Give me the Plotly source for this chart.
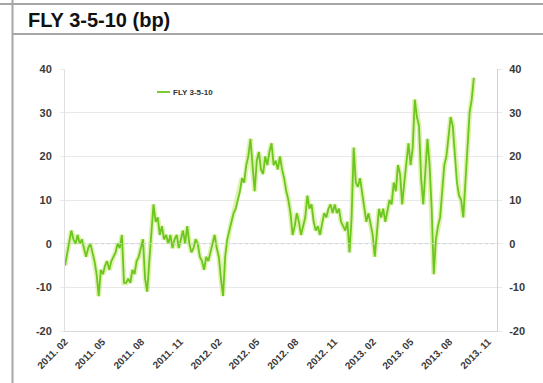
import pandas as pd
import plotly.graph_objects as go

# FLY 3-5-10 butterfly spread, basis points, sampled every 5 calendar days from 2011-02-01
start_date = "2011-02-01"
step_days = 5
fly_values = [
    -5, -2, 1, 3, 1, 0, 2, 0, 1, -1,
    -3, -1, 0, -2, -4, -7, -12, -6, -7, -5,
    -4, -6, -4, -3, -2, 0, -1, 2, -9, -9,
    -8, -9, -6, -7, -4, -3, -1, 1, -8, -11,
    -4, 3, 9, 5, 6, 2, 4, 1, 2, 0,
    2, -1, 1, 2, -1, 1, 3, 0, 4, 0,
    -2, -1, 1, 0, -3, -4, -6, -3, -4, -2,
    0, 2, -1, -3, -8, -12, -3, 1, 3, 5,
    7, 8, 10, 12, 15, 14, 18, 20, 24, 17,
    12, 19, 21, 17, 16, 20, 18, 21, 23, 18,
    19, 17, 20, 17, 15, 12, 10, 7, 2, 4,
    7, 5, 2, 4, 6, 11, 8, 9, 5, 3,
    4, 2, 5, 7, 6, 8, 9, 7, 9, 7,
    8, 5, 4, 3, 5, -2, 6, 22, 14, 13,
    15, 12, 8, 5, 7, 4, 2, -3, 3, 8,
    6, 8, 5, 8, 10, 9, 14, 12, 18, 16,
    9, 14, 18, 23, 18, 22, 33, 29, 27, 15,
    9, 17, 24, 18, 8, -7, 1, 4, 6, 12,
    18, 20, 24, 29, 27, 21, 14, 11, 10, 6,
    14, 24, 30, 33, 38,
]
fly_dates = pd.date_range(start_date, periods=len(fly_values), freq=f"{step_days}D")

tick_dates = ["2011-02-01", "2011-05-01", "2011-08-01", "2011-11-01",
              "2012-02-01", "2012-05-01", "2012-08-01", "2012-11-01",
              "2013-02-01", "2013-05-01", "2013-08-01", "2013-11-01"]
tick_labels = ["2011. 02", "2011. 05", "2011. 08", "2011. 11",
               "2012. 02", "2012. 05", "2012. 08", "2012. 11",
               "2013. 02", "2013. 05", "2013. 08", "2013. 11"]
y_ticks = [-20, -10, 0, 10, 20, 30, 40]

W, H = 543, 383
L, R, T, B = 65, 46, 69, 52
PW, PH = W - L - R, H - T - B


def px(x):
    return (x - L) / PW


def py(y):
    return (H - B - y) / PH


GREEN = "#6cc620"
GLOW = "rgba(196,232,110,0.55)"
FONT = "Liberation Sans, Arial"
y_tick_font = dict(family=FONT, size=11, color="#3a3a3a")

fig = go.Figure()
# soft halo under the series line
fig.add_trace(go.Scatter(x=fly_dates, y=fly_values, mode="lines",
                         line=dict(color=GLOW, width=5), hoverinfo="skip",
                         showlegend=False))
fig.add_trace(go.Scatter(x=fly_dates, y=fly_values, mode="lines",
                         line=dict(color=GREEN, width=1.8), name="FLY 3-5-10",
                         showlegend=False))
# mirrored right-hand axis
fig.add_trace(go.Scatter(x=[fly_dates[0]], y=[None], yaxis="y2",
                         showlegend=False, hoverinfo="skip"))

fig.update_layout(
    width=W, height=H,
    margin=dict(l=L, r=R, t=T, b=B),
    paper_bgcolor="white", plot_bgcolor="white",
    xaxis=dict(
        type="date", range=["2011-02-01", "2013-11-22"],
        tickvals=tick_dates, ticktext=["<b>%s</b>" % t for t in tick_labels],
        tickangle=-45,
        tickfont=dict(family=FONT, size=10, color="#3a3a3a"),
        showgrid=False, zeroline=False, ticks="", ticklen=0,
        showline=True, linecolor="#d9d9d9", linewidth=1,
    ),
    yaxis=dict(
        range=[-20, 40], tickvals=y_ticks,
        ticktext=["<b>%d</b>" % v for v in y_ticks], tickfont=y_tick_font,
        showgrid=True, gridcolor="#e8e8e8", gridwidth=1,
        zeroline=False, showline=True, linecolor="#e0e0e0",
        ticks="outside", ticklen=4, tickcolor="#e8e8e8",
        ticklabelstandoff=6,
    ),
    yaxis2=dict(
        range=[-20, 40], tickvals=y_ticks,
        ticktext=["<b>%d</b>" % v for v in y_ticks], tickfont=y_tick_font,
        overlaying="y", side="right", showgrid=False, zeroline=False,
        showline=True, linecolor="#d0d0d0", ticks="outside", ticklen=4,
        tickcolor="#e8e8e8", ticklabelstandoff=5,
    ),
    showlegend=False,
)

# dotted zero reference line
fig.add_hline(y=0, line=dict(color="#c9d3e0", width=1, dash="dot"))

# table-cell frame and title
frame = "#a6a6a6"
fig.add_shape(type="line", xref="paper", yref="paper", x0=px(0), x1=px(W),
              y0=py(4), y1=py(4), line=dict(color=frame, width=2))
fig.add_shape(type="line", xref="paper", yref="paper", x0=px(12), x1=px(W),
              y0=py(34), y1=py(34), line=dict(color=frame, width=2))
fig.add_shape(type="line", xref="paper", yref="paper", x0=px(12.5), x1=px(12.5),
              y0=py(0), y1=py(H), line=dict(color=frame, width=2))
fig.add_annotation(text="<b>FLY 3-5-10 (bp)</b>", xref="paper", yref="paper",
                   x=px(26), y=py(20), xanchor="left", yanchor="middle",
                   showarrow=False,
                   font=dict(family=FONT, size=20, color="#111111"))

# legend entry
fig.add_shape(type="line", xref="paper", yref="paper", x0=px(157), x1=px(170),
              y0=py(92), y1=py(92), line=dict(color=GREEN, width=1.8))
fig.add_annotation(text="<b>FLY 3-5-10</b>", xref="paper", yref="paper",
                   x=px(171), y=py(92), xanchor="left", yanchor="middle",
                   showarrow=False,
                   font=dict(family=FONT, size=8, color="#333333"))

fig.write_html("out.html")
